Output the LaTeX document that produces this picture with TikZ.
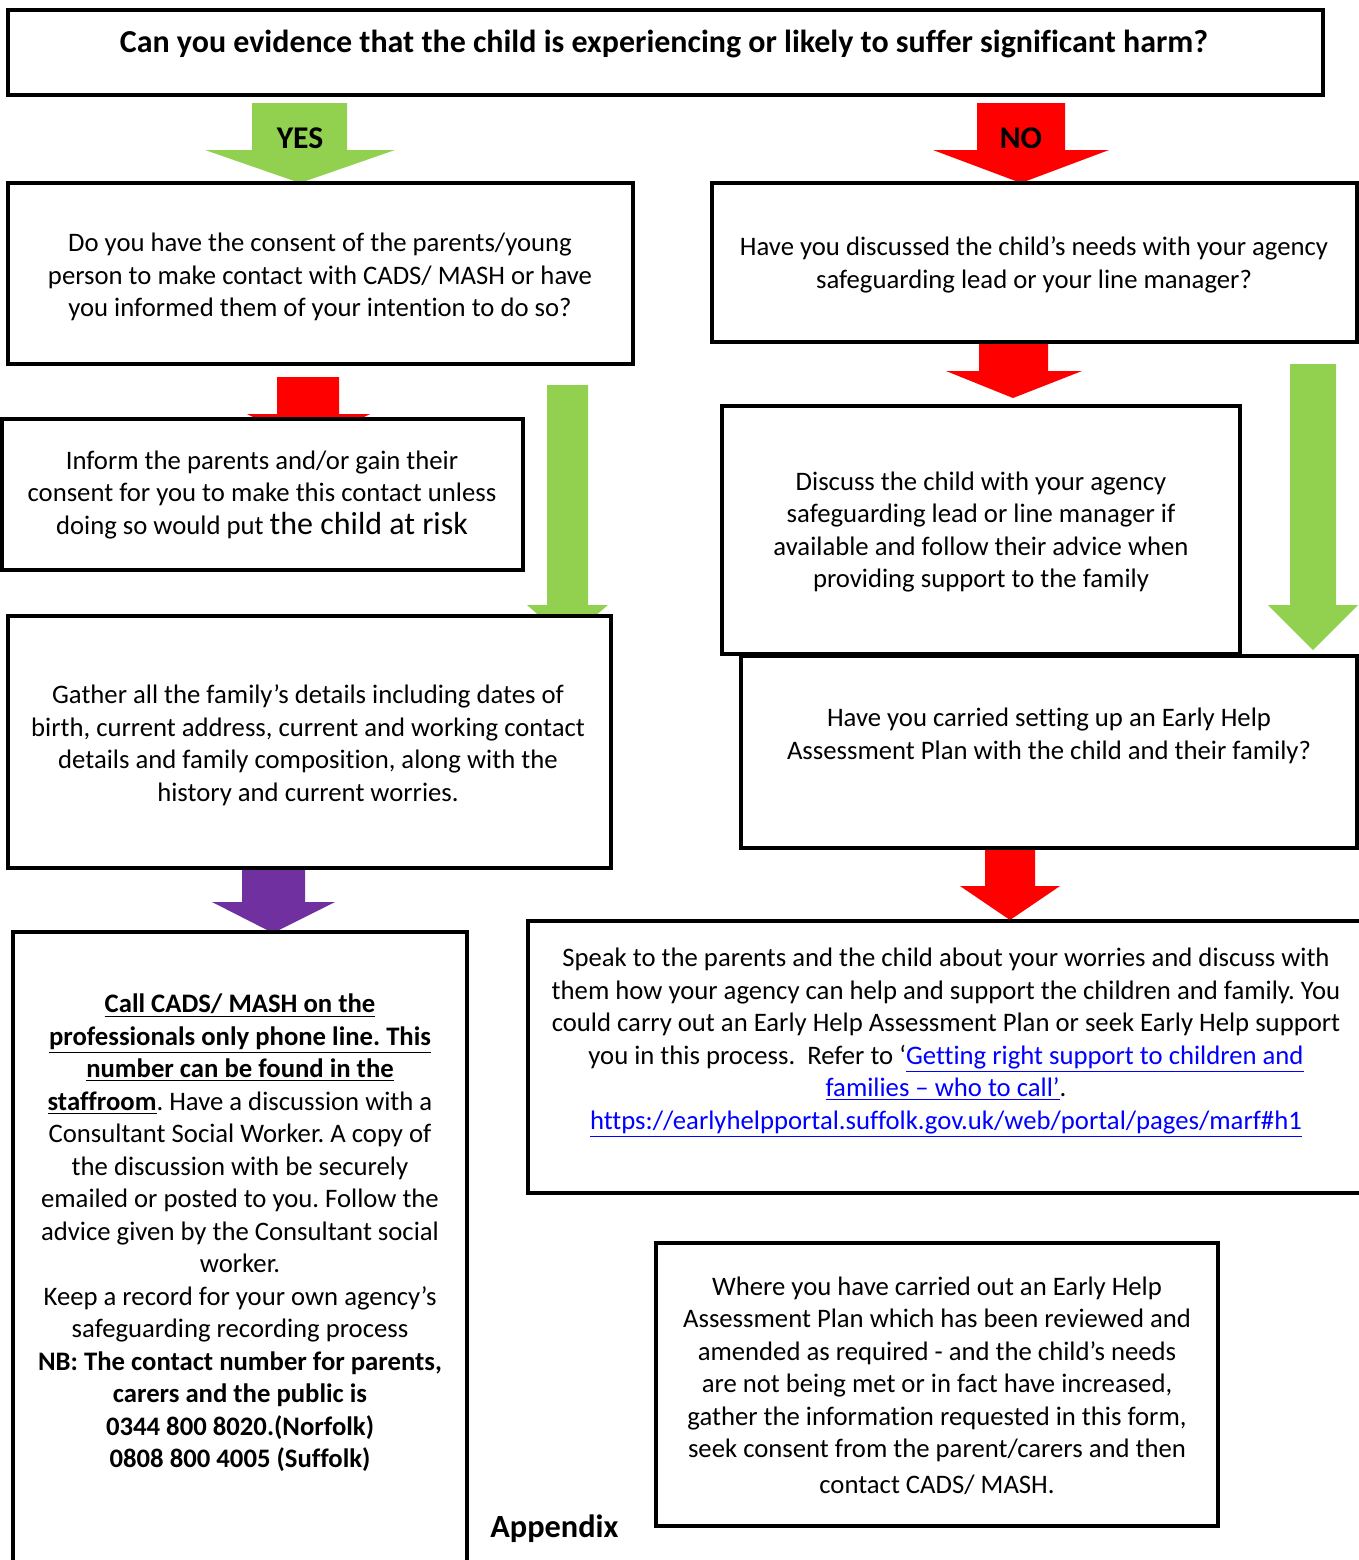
\documentclass[tikz,border=0pt]{standalone}
\usepackage{fontspec}
\setmainfont{Carlito}[Ligatures={NoCommon}]
\usepackage{xcolor}

\definecolor{yesgreen}{HTML}{92D050}
\definecolor{nored}{HTML}{FF0000}
\definecolor{mashpurple}{HTML}{7030A0}
\definecolor{linkblue}{HTML}{0000FF}

\newcommand{\weblink}[1]{\textcolor{linkblue}{\underline{#1}}}

\tikzset{
  box/.style={draw=black, fill=white, line width=2.3pt},
  txt/.style={align=center, inner sep=0pt, font=\fontsize{15.2}{18.5}\selectfont},
}

\begin{document}
\frenchspacing
\begin{tikzpicture}[x=0.02cm, y=-0.02cm]

\useasboundingbox (0,0) rectangle (1359,1560);

% block arrows (drawn first, boxes sit on top)
\fill[yesgreen] (252,103) -- (347,103) -- (347,150) -- (395,150) -- (300,183) -- (205,150) -- (252,150) -- cycle;
\fill[nored] (977,103) -- (1065,103) -- (1065,150) -- (1109,150) -- (1021,183) -- (933,150) -- (977,150) -- cycle;
\fill[nored] (277,377) -- (339,377) -- (339,414) -- (370,414) -- (308,445) -- (247,414) -- (277,414) -- cycle;
\fill[yesgreen] (547,385) -- (588,385) -- (588,605) -- (608,605) -- (567,640) -- (527,605) -- (547,605) -- cycle;
\fill[mashpurple] (242,870) -- (305,870) -- (305,902) -- (335,902) -- (273,933) -- (212,902) -- (242,902) -- cycle;
\fill[nored] (979,342) -- (1048,342) -- (1048,371) -- (1082,371) -- (1013,398) -- (946,371) -- (979,371) -- cycle;
\fill[yesgreen] (1290,364) -- (1336,364) -- (1336,605) -- (1358,605) -- (1313,650) -- (1268,605) -- (1290,605) -- cycle;
\fill[nored] (985,848) -- (1035,848) -- (1035,886) -- (1060,886) -- (1010,920) -- (960,886) -- (985,886) -- cycle;

% boxes
\draw[box] (8,10) rectangle (1323,95);
\draw[box] (8,183) rectangle (633,364);
\draw[box] (712,183) rectangle (1357,342);
\draw[box] (2,419) rectangle (523,570);
\draw[box] (8,616) rectangle (611,868);
\draw[box] (13,1600) -- (13,932) -- (467,932) -- (467,1600);
\draw[box] (722,406) rectangle (1240,654);
\draw[box] (741,656) rectangle (1357,848);
\draw[box] (1380,921) -- (528,921) -- (528,1193) -- (1380,1193);
\draw[box] (656,1243) rectangle (1218,1526);

% arrow labels
\node[font=\fontsize{18}{20}\selectfont\bfseries] (yes) at (300,138) {YES};
\node[font=\fontsize{18}{20}\selectfont\bfseries] (no) at (1021,138) {NO};

% texts
\node[txt, font=\fontsize{18.2}{20}\selectfont\bfseries] (harm) at (664,44)
  {Can you evidence that the child is experiencing or likely to suffer significant harm?};

\node[txt] (consent) at (320,277) {Do you have the consent of the parents/young\\
  person to make contact with CADS/ MASH or have\\
  you informed them of your intention to do so?};

\node[txt] (discussed) at (1034,265) {Have you discussed the child's needs with your agency\\
  safeguarding lead or your line manager?};

\node[txt] (inform) at (262,495) {Inform the parents and/or gain their\\
  consent for you to make this contact unless\\
  doing so would put {\fontsize{18.2}{18.5}\selectfont the child at risk}};

\node[txt] (gather) at (308,745) {Gather all the family’s details including dates of\\
  birth, current address, current and working contact\\
  details and family composition, along with the\\
  history and current worries.};

\node[txt] (call) at (240,1233) {\underline{\textbf{Call CADS/ MASH on the}}\\
  \underline{\textbf{professionals only phone line. This}}\\
  \underline{\textbf{number can be found in the}}\\
  \underline{\textbf{staffroom}}. Have a discussion with a\\
  Consultant Social Worker. A copy of\\
  the discussion with be securely\\
  emailed or posted to you. Follow the\\
  advice given by the Consultant social\\
  worker.\\
  Keep a record for your own agency’s\\
  safeguarding recording process\\
  \textbf{NB: The contact number for parents,}\\
  \textbf{carers and the public is}\\
  \textbf{0344 800 8020.(Norfolk)}\\
  \textbf{0808 800 4005 (Suffolk)}};

\node[txt] (discuss) at (981,532) {Discuss the child with your agency\\
  safeguarding lead or line manager if\\
  available and follow their advice when\\
  providing support to the family};

\node[txt] (earlyhelp) at (1049,736) {Have you carried setting up an Early Help\\
  Assessment Plan with the child and their family?};

\node[txt] (speak) at (946,1043) {Speak to the parents and the child about your worries and discuss with\\
  them how your agency can help and support the children and family. You\\
  could carry out an Early Help Assessment Plan or seek Early Help support\\
  you in this process.\ \ Refer to ‘\weblink{Getting right support to children and}\\
  \weblink{families – who to call’}.\\
  \weblink{https://earlyhelpportal.suffolk.gov.uk/web/portal/pages/marf\#h1}};

\node[txt] (reviewed) at (937,1386) {Where you have carried out an Early Help\\
  Assessment Plan which has been reviewed and\\
  amended as required - and the child's needs\\
  are not being met or in fact have increased,\\
  gather the information requested in this form,\\
  seek consent from the parent/carers and then\\[2pt]
  contact CADS/ MASH.};

\node[anchor=west, inner sep=0pt, font=\fontsize{18.4}{20}\selectfont\bfseries] (appendix) at (490,1529) {Appendix};

\end{tikzpicture}
\end{document}
